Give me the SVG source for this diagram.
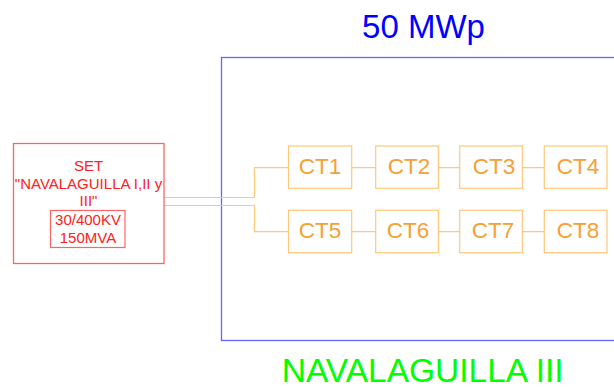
<svg xmlns="http://www.w3.org/2000/svg" width="614" height="387" viewBox="0 0 614 387">
<style>
.ct rect{fill:none;stroke:#ffc878;stroke-width:1.2}
.ct text{font-family:"Liberation Sans",Arial,sans-serif;font-size:22.5px;fill:#f7a033;text-anchor:middle}
.conn{fill:none;stroke:#ffc878;stroke-width:1.2}
.red{font-family:"Liberation Sans",Arial,sans-serif;font-size:15px;fill:#ff2020;text-anchor:middle}
</style>
<rect width="614" height="387" fill="#ffffff"/>
<g id="plant">
<rect x="221.5" y="57.5" width="420" height="283" fill="none" stroke="#6464ff" stroke-width="1.3"/>
<text x="423.5" y="37.5" font-family="Liberation Sans,Arial,sans-serif" font-size="33" fill="#0000ff" text-anchor="middle">50 MWp</text>
<text x="422.7" y="382" font-family="Liberation Sans,Arial,sans-serif" font-size="33.5" fill="#00ff00" text-anchor="middle">NAVALAGUILLA III</text>
</g>
<g id="connectors">
<path class="conn" d="M164 197.5H254.5V167.7H288.5"/>
<path class="conn" d="M164 205.5H254.5V231.7H288.5"/>
<path class="conn" d="M351.7 167.7H375.7M438.3 167.7H459.7M522.3 167.7H544.3"/>
<path class="conn" d="M351.7 231.7H375.7M438.3 231.7H459.7M522.3 231.7H544.3"/>
</g>
<g id="set">
<rect x="13.5" y="143.5" width="150.5" height="120" fill="none" stroke="#ff6464" stroke-width="1.3"/>
<text class="red" x="88.5" y="170.5">SET</text>
<text class="red" x="88.5" y="189">"NAVALAGUILLA I,II y</text>
<text class="red" x="88.5" y="206">III"</text>
<rect x="50.5" y="210.5" width="74.5" height="37" fill="none" stroke="#ff6464" stroke-width="1.2"/>
<text class="red" x="88" y="225">30/400KV</text>
<text class="red" x="88" y="242.5">150MVA</text>
</g>
<g id="ct1" class="ct"><rect x="288.5" y="146" width="63.2" height="42.3"/><text x="320" y="174">CT1</text></g>
<g id="ct2" class="ct"><rect x="375.7" y="146" width="62.6" height="42.3"/><text x="409" y="174">CT2</text></g>
<g id="ct3" class="ct"><rect x="459.7" y="146" width="62.6" height="42.3"/><text x="494" y="174">CT3</text></g>
<g id="ct4" class="ct"><rect x="544.3" y="146" width="62.7" height="42.3"/><text x="578" y="174">CT4</text></g>
<g id="ct5" class="ct"><rect x="288.5" y="210.3" width="63.2" height="42.4"/><text x="320" y="238">CT5</text></g>
<g id="ct6" class="ct"><rect x="375.7" y="210.3" width="62.6" height="42.4"/><text x="408" y="238">CT6</text></g>
<g id="ct7" class="ct"><rect x="459.7" y="210.3" width="62.6" height="42.4"/><text x="493" y="238">CT7</text></g>
<g id="ct8" class="ct"><rect x="544.3" y="210.3" width="62.7" height="42.4"/><text x="578" y="238">CT8</text></g>
</svg>
